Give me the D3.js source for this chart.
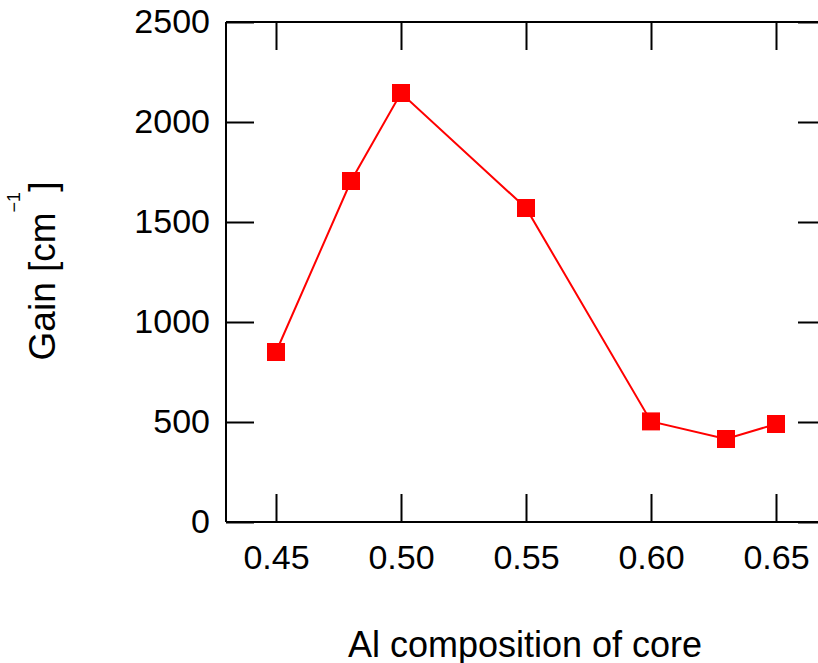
<!DOCTYPE html>
<html>
<head>
<meta charset="utf-8">
<script src="https://cdn.jsdelivr.net/npm/d3@7"></script>
<style>
  html, body { margin: 0; padding: 0; background: #fff; overflow: hidden; }
  svg { display: block; }
  text { font-family: "Liberation Sans", Arial, sans-serif; fill: #000; }
</style>
</head>
<body>
<div id="chart"></div>
<script>
// Gain versus Al composition of the core layer
const composition = [0.45, 0.48, 0.50, 0.55, 0.60, 0.63, 0.65];
const gain = [850, 1705, 2145, 1570, 503, 415, 490];
const xTicks = [0.45, 0.50, 0.55, 0.60, 0.65];
const yTicks = [0, 500, 1000, 1500, 2000, 2500];

const width = 818, height = 663;
const plot = { left: 226, top: 22, right: 826, bottom: 522 };
const tickLen = 28;

const svg = d3.select("#chart").append("svg")
  .attr("width", width).attr("height", height);

const x = d3.scaleLinear().domain([0.43, 0.67]).range([plot.left, plot.right]);
const y = d3.scaleLinear().domain([0, 2500]).range([plot.bottom, plot.top]);

const fmtX = d3.format(".2f");

// Frame axes with inward ticks on all four sides
const bottomAxis = d3.axisBottom(x).tickValues(xTicks).tickSize(-tickLen).tickPadding(23).tickFormat(fmtX);
const topAxis = d3.axisTop(x).tickValues(xTicks).tickSize(-tickLen).tickFormat("");
const leftAxis = d3.axisLeft(y).tickValues(yTicks).tickSize(-tickLen).tickPadding(16).tickFormat(d3.format("d"));
const rightAxis = d3.axisRight(y).tickValues(yTicks).tickSize(-tickLen).tickFormat("");

function styleAxis(g) {
  g.attr("font-family", null).attr("font-size", null);
  g.select(".domain").attr("stroke", "#000").attr("stroke-width", 2);
  g.selectAll(".tick line").attr("stroke", "#000").attr("stroke-width", 2);
  g.selectAll(".tick text").style("font-size", "34px").attr("fill", "#000");
}

svg.append("g").attr("transform", `translate(0,${plot.bottom})`).call(bottomAxis).call(styleAxis)
  .call(g => g.select(".domain").attr("d", `M${plot.left},0H${plot.right}`));
svg.append("g").attr("transform", `translate(0,${plot.top})`).call(topAxis).call(styleAxis)
  .call(g => g.select(".domain").attr("d", `M${plot.left},0H${plot.right}`));
svg.append("g").attr("transform", `translate(${plot.left},0)`).call(leftAxis).call(styleAxis)
  .call(g => g.select(".domain").attr("d", `M0,${plot.top}V${plot.bottom}`));
svg.append("g").attr("transform", `translate(${plot.right},0)`).call(rightAxis).call(styleAxis)
  .call(g => g.select(".domain").attr("d", `M0,${plot.top}V${plot.bottom}`));

// Data line
const pts = composition.map((c, i) => [c, gain[i]]);
svg.append("path")
  .datum(pts)
  .attr("fill", "none")
  .attr("stroke", "#ff0000")
  .attr("stroke-width", 2)
  .attr("d", d3.line().x(d => x(d[0])).y(d => y(d[1])));

// Square markers
const ms = 18;
svg.selectAll("rect.marker")
  .data(pts)
  .join("rect")
  .attr("class", "marker")
  .attr("x", d => x(d[0]) - ms / 2)
  .attr("y", d => y(d[1]) - ms / 2)
  .attr("width", ms)
  .attr("height", ms)
  .attr("fill", "#ff0000");

// Axis titles
svg.append("text")
  .attr("x", 525)
  .attr("y", 657)
  .attr("text-anchor", "middle")
  .style("font-size", "36px")
  .text("Al composition of core");

const yTitle = svg.append("text")
  .attr("transform", "translate(55,271) rotate(-90)")
  .attr("text-anchor", "middle")
  .style("font-size", "37px");
yTitle.append("tspan").text("Gain [cm");
yTitle.append("tspan").attr("dy", -35).style("font-size", "18px").text("\u22121");
yTitle.append("tspan").attr("dy", 35).text("]");
</script>
</body>
</html>
